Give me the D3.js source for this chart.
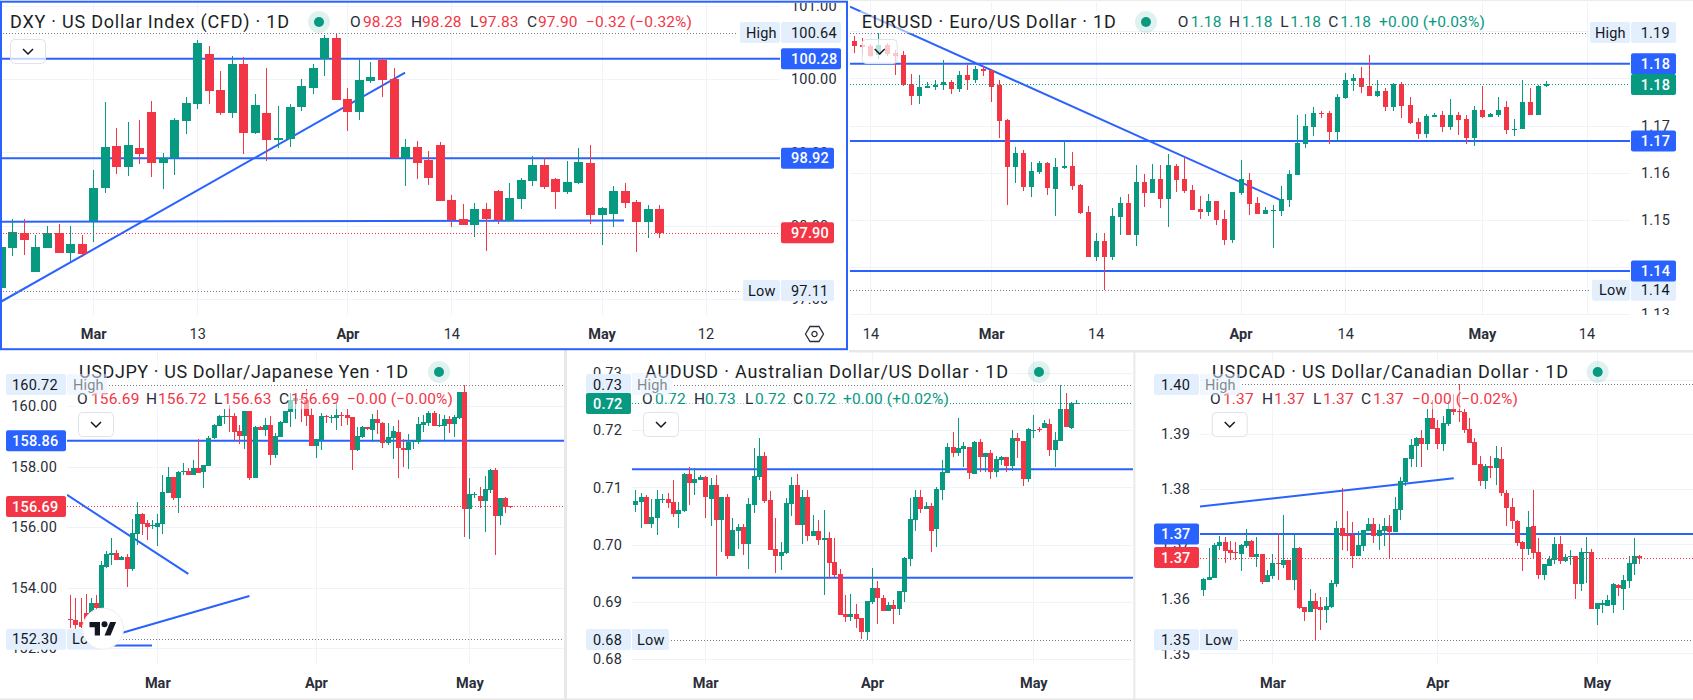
<!DOCTYPE html>
<html>
<head>
<meta charset="utf-8">
<title>FX majors daily candles</title>
<script src="https://cdn.jsdelivr.net/npm/d3@7"></script>
<style>
  html, body { margin: 0; padding: 0; background: #fff; }
  svg { display: block; }
  text { font-family: Roboto, "Noto Sans", sans-serif; }
</style>
</head>
<body>
<svg id="board" width="1693" height="700"></svg>
<script>
// Daily candles, each row is [open, high, low, close].
const dxyCandles = [
[97.14,97.75,97.10,97.71],[97.69,98.09,97.58,97.91],[97.90,98.09,97.60,97.80],[97.36,97.87,97.36,97.71],[97.69,97.99,97.69,97.90],
[97.90,98.02,97.62,97.62],[97.62,97.99,97.50,97.75],[97.75,97.87,97.57,97.61],[98.06,98.76,97.77,98.51],[98.51,99.69,98.45,99.07],
[99.09,99.33,98.70,98.80],[98.80,99.42,98.68,99.10],[99.06,99.44,98.84,98.98],[99.55,99.70,98.66,98.86],[98.86,98.99,98.50,98.92],
[98.92,99.47,98.69,99.44],[99.43,99.76,99.25,99.68],[99.66,100.54,99.59,100.50],[100.35,100.46,99.66,99.84],[99.85,100.11,99.51,99.54],
[99.54,100.32,99.47,100.21],[100.21,100.31,98.98,99.27],[99.27,99.80,99.25,99.65],[99.54,100.16,98.88,99.17],[99.17,99.64,99.06,99.20],
[99.18,99.66,99.07,99.62],[99.62,100.00,99.57,99.91],[99.88,100.21,99.80,100.16],[100.28,100.61,100.05,100.57],[100.57,100.64,99.72,99.72],
[99.73,99.88,99.29,99.55],[99.55,100.28,99.44,99.99],[99.98,100.24,99.95,100.03],[100.26,100.28,99.76,99.99],[100.00,100.16,98.92,98.92],
[98.92,99.18,98.54,99.07],[99.07,99.16,98.64,98.86],[98.90,99.02,98.55,98.65],[99.10,99.14,98.34,98.34],[98.35,98.42,97.98,98.08],
[98.09,98.29,98.01,98.01],[98.01,98.31,97.84,98.23],[98.23,98.31,97.65,98.09],[98.47,98.49,98.02,98.08],[98.06,98.58,98.06,98.38],
[98.36,98.65,98.23,98.62],[98.61,98.95,98.54,98.83],[98.83,98.92,98.50,98.53],[98.64,98.65,98.23,98.46],[98.46,98.88,98.43,98.60],
[98.58,99.06,98.57,98.87],[98.86,99.10,98.02,98.14],[98.14,98.25,97.73,98.24],[98.16,98.54,97.98,98.47],[98.47,98.58,98.24,98.31],
[98.32,98.35,97.64,98.05],[98.05,98.28,97.83,98.23],[98.23,98.28,97.83,97.90]
];
const eurCandles = [
[1.1879,1.1890,1.1854,1.1868],[1.1871,1.1885,1.1849,1.1866],[1.1868,1.1872,1.1845,1.1847],[1.1849,1.1897,1.1841,1.1871],[1.1871,1.1875,1.1847,1.1851],
[1.1854,1.1860,1.1807,1.1847],[1.1849,1.1858,1.1784,1.1786],[1.1788,1.1809,1.1744,1.1763],[1.1763,1.1807,1.1746,1.1782],[1.1780,1.1792,1.1780,1.1784],
[1.1782,1.1796,1.1775,1.1786],[1.1786,1.1839,1.1775,1.1792],[1.1792,1.1796,1.1767,1.1777],[1.1777,1.1816,1.1771,1.1807],[1.1807,1.1828,1.1775,1.1796],
[1.1796,1.1826,1.1790,1.1820],[1.1820,1.1826,1.1805,1.1816],[1.1818,1.1818,1.1750,1.1782],[1.1786,1.1796,1.1674,1.1710],[1.1712,1.1714,1.1532,1.1612],
[1.1612,1.1655,1.1578,1.1642],[1.1642,1.1648,1.1561,1.1570],[1.1570,1.1623,1.1549,1.1604],[1.1602,1.1625,1.1597,1.1621],[1.1621,1.1623,1.1553,1.1568],
[1.1566,1.1631,1.1508,1.1612],[1.1610,1.1667,1.1608,1.1614],[1.1614,1.1644,1.1563,1.1572],[1.1574,1.1576,1.1513,1.1515],[1.1517,1.1530,1.1422,1.1422],
[1.1422,1.1472,1.1413,1.1455],[1.1455,1.1472,1.1352,1.1422],[1.1422,1.1525,1.1415,1.1508],[1.1506,1.1549,1.1468,1.1536],[1.1536,1.1555,1.1468,1.1468],
[1.1468,1.1616,1.1445,1.1580],[1.1580,1.1597,1.1527,1.1557],[1.1557,1.1619,1.1557,1.1587],[1.1587,1.1616,1.1525,1.1544],[1.1544,1.1640,1.1485,1.1616],
[1.1614,1.1619,1.1559,1.1585],[1.1587,1.1631,1.1557,1.1561],[1.1563,1.1574,1.1521,1.1521],[1.1523,1.1551,1.1502,1.1517],[1.1517,1.1555,1.1508,1.1540],
[1.1540,1.1540,1.1489,1.1500],[1.1502,1.1521,1.1447,1.1458],[1.1458,1.1559,1.1451,1.1559],[1.1557,1.1627,1.1553,1.1587],[1.1585,1.1599,1.1511,1.1534],
[1.1536,1.1549,1.1513,1.1513],[1.1513,1.1527,1.1513,1.1521],[1.1519,1.1532,1.1441,1.1521],[1.1519,1.1572,1.1508,1.1544],[1.1542,1.1606,1.1527,1.1597],
[1.1595,1.1722,1.1595,1.1663],[1.1661,1.1724,1.1652,1.1699],[1.1697,1.1739,1.1678,1.1727],[1.1727,1.1731,1.1716,1.1724],[1.1727,1.1731,1.1661,1.1686],
[1.1686,1.1767,1.1665,1.1760],[1.1758,1.1811,1.1756,1.1796],[1.1794,1.1809,1.1773,1.1801],[1.1801,1.1824,1.1769,1.1782],[1.1784,1.1849,1.1763,1.1763],
[1.1763,1.1796,1.1760,1.1773],[1.1773,1.1780,1.1731,1.1739],[1.1739,1.1790,1.1731,1.1788],[1.1788,1.1792,1.1716,1.1741],[1.1744,1.1760,1.1703,1.1705],
[1.1708,1.1716,1.1672,1.1682],[1.1682,1.1724,1.1674,1.1720],[1.1718,1.1727,1.1718,1.1722],[1.1722,1.1731,1.1686,1.1697],[1.1697,1.1756,1.1691,1.1722],
[1.1722,1.1729,1.1680,1.1712],[1.1714,1.1722,1.1661,1.1674],[1.1674,1.1741,1.1657,1.1733],[1.1733,1.1784,1.1716,1.1718],[1.1718,1.1727,1.1718,1.1724],
[1.1722,1.1760,1.1718,1.1733],[1.1739,1.1752,1.1682,1.1691],[1.1691,1.1714,1.1678,1.1693],[1.1693,1.1796,1.1693,1.1750],[1.1750,1.1780,1.1722,1.1722],
[1.1722,1.1786,1.1722,1.1784],[1.1784,1.1794,1.1782,1.1788]
];
const jpyCandles = [
[152.98,153.75,152.66,152.95],[152.94,153.66,152.63,152.77],[152.86,153.65,152.66,152.72],[153.16,153.80,152.77,152.88],[153.05,153.66,152.88,153.50],
[153.50,153.76,153.16,153.32],[153.32,154.89,153.27,154.75],[154.69,155.22,154.66,155.12],[155.09,155.65,154.75,155.15],[155.15,155.25,154.92,154.92],
[154.92,155.05,154.92,155.02],[155.02,155.12,154.03,154.62],[154.62,156.28,154.56,155.81],[155.78,156.84,155.42,156.44],[156.44,156.47,155.75,156.11],
[156.14,156.24,155.58,156.01],[156.04,156.24,155.94,156.08],[156.01,156.44,155.38,156.14],[156.11,157.73,155.78,157.17],[157.13,157.99,157.13,157.66],
[157.66,157.66,156.90,156.97],[156.97,157.86,156.47,157.83],[157.83,158.13,157.73,157.86],[157.86,157.96,157.73,157.73],[157.73,158.23,157.73,157.96],
[157.96,158.92,157.80,157.80],[157.83,158.06,157.30,158.06],[158.03,159.02,158.03,158.95],[158.95,159.42,158.92,159.38],[159.35,159.71,159.35,159.68],
[159.65,159.91,159.42,159.68],[159.68,160.04,159.15,159.65],[159.68,159.78,158.89,159.15],[159.18,159.38,158.75,159.02],[159.02,159.85,158.59,159.85],
[159.85,159.85,157.56,157.63],[157.63,159.35,157.63,159.32],[159.32,159.35,159.22,159.22],[159.22,159.61,159.02,159.38],[159.38,159.68,158.06,158.39],
[158.39,159.12,158.29,159.02],[158.99,159.52,158.99,159.48],[159.45,159.85,159.45,159.85],[159.81,160.43,159.32,160.21],[160.18,160.37,159.58,160.28],
[160.24,160.37,159.48,160.20],[160.21,160.57,159.35,159.68],[159.71,159.94,158.69,158.69],[158.69,158.92,158.29,158.92],[158.89,159.78,158.56,159.68],
[159.68,159.71,159.45,159.65],[159.61,159.71,159.45,159.65],[159.61,160.14,159.22,159.71],[159.71,159.81,159.35,159.68],[159.71,159.91,159.38,159.61],
[159.65,159.65,157.90,158.56],[158.56,159.32,158.52,159.02],[158.99,159.35,158.95,159.32],[159.32,159.32,159.22,159.25],[159.22,159.75,158.82,159.58],
[159.58,159.88,159.09,159.45],[159.45,159.48,158.62,158.79],[158.79,159.45,158.72,158.99],[158.95,159.35,158.26,159.18],[159.15,159.55,157.63,158.62],
[158.62,158.92,157.99,158.56],[158.56,159.09,157.93,158.82],[158.82,158.89,158.59,158.85],[158.82,159.65,158.75,159.42],[159.38,159.71,159.15,159.48],
[159.45,159.85,159.35,159.78],[159.78,159.85,159.35,159.35],[159.35,159.75,159.32,159.37],[159.35,159.71,158.89,159.58],[159.58,159.68,159.12,159.42],
[159.42,159.71,158.99,159.65],[159.61,160.47,159.58,160.47],[160.47,160.72,155.68,156.61],[156.61,157.63,155.61,157.10],[157.07,157.17,156.97,157.10],
[157.03,157.33,156.64,156.87],[156.87,157.70,155.85,157.27],[157.23,157.93,157.13,157.90],[157.90,157.96,155.09,156.37],[156.37,156.97,156.08,156.97],
[156.97,157.00,156.47,156.67],[156.69,156.72,156.63,156.69]
];
const audCandles = [
[.7069,.7096,.7057,.7076],[.7075,.7090,.7029,.7083],[.7083,.7087,.7036,.7036],[.7036,.7080,.7029,.7048],[.7047,.7096,.7017,.7080],
[.7078,.7089,.7073,.7080],[.7080,.7090,.7064,.7073],[.7075,.7113,.7048,.7054],[.7054,.7075,.7029,.7061],[.7059,.7125,.7057,.7124],
[.7124,.7136,.7069,.7108],[.7108,.7134,.7087,.7115],[.7113,.7122,.7113,.7118],[.7118,.7120,.7047,.7083],[.7080,.7117,.7033,.7104],
[.7104,.7122,.6945,.7043],[.7043,.7083,.6987,.7083],[.7083,.7089,.6975,.6980],[.6980,.7047,.6980,.7026],[.7024,.7036,.6992,.7031],
[.7031,.7036,.6982,.7001],[.7001,.7082,.6957,.7071],[.7069,.7169,.7055,.7120],[.7118,.7187,.7113,.7155],[.7155,.7162,.7073,.7076],
[.7078,.7094,.6991,.6991],[.6992,.7047,.6950,.6980],[.6980,.7005,.6956,.6987],[.6985,.7082,.6984,.7073],[.7071,.7118,.7050,.7104],
[.7104,.7124,.7034,.7034],[.7034,.7096,.7001,.7083],[.7083,.7096,.7006,.7015],[.7015,.7052,.7015,.7024],[.7024,.7043,.6999,.7008],
[.7008,.7061,.6912,.7012],[.7012,.7022,.6940,.6968],[.6970,.7012,.6943,.6947],[.6949,.6957,.6877,.6877],[.6879,.6912,.6865,.6874],
[.6874,.6914,.6867,.6879],[.6879,.6896,.6854,.6870],[.6872,.6872,.6835,.6847],[.6847,.6902,.6833,.6902],[.6900,.6959,.6896,.6924],
[.6924,.6936,.6861,.6907],[.6907,.6912,.6884,.6884],[.6884,.6900,.6884,.6895],[.6895,.6903,.6861,.6888],[.6888,.6919,.6877,.6919],
[.6917,.6978,.6900,.6977],[.6975,.7082,.6963,.7045],[.7043,.7096,.7024,.7083],[.7083,.7096,.7055,.7062],[.7062,.7075,.7062,.7068],
[.7068,.7073,.6987,.7024],[.7027,.7101,.6996,.7097],[.7096,.7148,.7078,.7127],[.7125,.7178,.7125,.7171],[.7171,.7197,.7153,.7160],
[.7160,.7222,.7155,.7169],[.7167,.7180,.7136,.7173],[.7171,.7171,.7115,.7125],[.7124,.7181,.7124,.7180],[.7180,.7185,.7127,.7153],
[.7153,.7160,.7127,.7160],[.7160,.7166,.7115,.7127],[.7127,.7155,.7118,.7150],[.7148,.7155,.7139,.7153],[.7153,.7153,.7127,.7138],
[.7138,.7201,.7129,.7187],[.7187,.7195,.7152,.7181],[.7181,.7181,.7103,.7115],[.7115,.7204,.7110,.7202],[.7199,.7227,.7187,.7201],
[.7202,.7206,.7197,.7201],[.7204,.7218,.7204,.7213],[.7211,.7220,.7155,.7166],[.7166,.7197,.7136,.7183],[.7181,.7280,.7181,.7237],
[.7237,.7265,.7206,.7206],[.7204,.7250,.7202,.7248],[.7246,.7253,.7246,.7248]
];
const cadCandles = [
[1.3616,1.3638,1.3605,1.3636],[1.3634,1.3692,1.3634,1.3639],[1.3638,1.3701,1.3638,1.3698],[1.3696,1.3714,1.3689,1.3703],[1.3703,1.3712,1.3665,1.3687],
[1.3689,1.3705,1.3670,1.3683],[1.3685,1.3703,1.3670,1.3684],[1.3681,1.3700,1.3650,1.3698],[1.3696,1.3727,1.3692,1.3705],[1.3705,1.3707,1.3676,1.3676],
[1.3676,1.3712,1.3658,1.3681],[1.3681,1.3681,1.3627,1.3630],[1.3630,1.3652,1.3630,1.3643],[1.3641,1.3681,1.3636,1.3665],[1.3665,1.3720,1.3634,1.3664],
[1.3661,1.3753,1.3656,1.3670],[1.3670,1.3670,1.3634,1.3634],[1.3634,1.3716,1.3616,1.3692],[1.3692,1.3694,1.3581,1.3583],[1.3585,1.3585,1.3559,1.3576],
[1.3576,1.3617,1.3576,1.3596],[1.3596,1.3610,1.3524,1.3581],[1.3585,1.3603,1.3543,1.3579],[1.3579,1.3603,1.3555,1.3586],[1.3585,1.3634,1.3583,1.3628],
[1.3627,1.3742,1.3621,1.3729],[1.3729,1.3802,1.3689,1.3714],[1.3718,1.3760,1.3687,1.3714],[1.3716,1.3740,1.3656,1.3678],[1.3678,1.3723,1.3678,1.3698],
[1.3696,1.3725,1.3687,1.3725],[1.3723,1.3747,1.3723,1.3736],[1.3736,1.3747,1.3701,1.3714],[1.3714,1.3736,1.3689,1.3725],[1.3723,1.3747,1.3696,1.3733],
[1.3733,1.3753,1.3672,1.3722],[1.3722,1.3786,1.3722,1.3764],[1.3762,1.3822,1.3743,1.3815],[1.3813,1.3857,1.3806,1.3857],[1.3855,1.3891,1.3840,1.3881],
[1.3879,1.3895,1.3840,1.3893],[1.3893,1.3908,1.3840,1.3882],[1.3882,1.3946,1.3871,1.3930],[1.3930,1.3963,1.3910,1.3910],[1.3912,1.3926,1.3873,1.3882],
[1.3882,1.3933,1.3870,1.3921],[1.3919,1.3961,1.3915,1.3946],[1.3946,1.3974,1.3935,1.3941],[1.3943,1.3991,1.3923,1.3941],[1.3941,1.3946,1.3902,1.3908],
[1.3910,1.3930,1.3884,1.3884],[1.3886,1.3893,1.3844,1.3844],[1.3846,1.3860,1.3806,1.3815],[1.3815,1.3846,1.3800,1.3842],[1.3842,1.3860,1.3820,1.3838],
[1.3838,1.3879,1.3807,1.3857],[1.3855,1.3877,1.3787,1.3793],[1.3793,1.3798,1.3733,1.3765],[1.3767,1.3784,1.3727,1.3742],[1.3742,1.3743,1.3696,1.3701],
[1.3703,1.3705,1.3650,1.3691],[1.3691,1.3760,1.3680,1.3731],[1.3733,1.3798,1.3674,1.3683],[1.3685,1.3711,1.3636,1.3643],[1.3643,1.3663,1.3634,1.3663],
[1.3659,1.3678,1.3659,1.3672],[1.3670,1.3712,1.3663,1.3700],[1.3700,1.3714,1.3663,1.3669],[1.3669,1.3681,1.3667,1.3676],[1.3676,1.3689,1.3661,1.3678],
[1.3678,1.3678,1.3599,1.3627],[1.3627,1.3692,1.3614,1.3685],[1.3683,1.3712,1.3628,1.3685],[1.3685,1.3691,1.3581,1.3581],[1.3581,1.3592,1.3552,1.3592],
[1.3588,1.3597,1.3574,1.3592],[1.3586,1.3606,1.3586,1.3597],[1.3588,1.3628,1.3574,1.3627],[1.3625,1.3627,1.3605,1.3619],[1.3617,1.3643,1.3579,1.3634],
[1.3632,1.3678,1.3619,1.3665],[1.3663,1.3711,1.3643,1.3678],[1.3678,1.3680,1.3663,1.3675]
];

// Session extremes, last close and horizontal levels per instrument.
const dxyStats = { high: 100.64, low: 97.11, last: 97.90 };
const eurStats = { high: 1.1897, low: 1.1351, last: 1.1787 };
const jpyStats = { high: 160.72, low: 152.30, last: 156.69 };
const audStats = { high: .7280, low: .6834, last: .7247 };
const cadStats = { high: 1.3991, low: 1.3525, last: 1.3675 };
const dxyLevels = [100.28, 98.92];
const eurLevels = [1.1831, 1.1667, 1.1392];
const jpyLevels = [158.86];
const audLevels = [.7132, .6942];
const cadLevels = [1.3718];

// Hand-drawn trend segments as [[bar, price], [bar, price]].
const dxySegments = [[[-0.07, 96.95], [35, 100.09]], [[-0.07, 98.052], [53.95, 98.068]]];
const eurSegments = [[[-0.54, 1.1952], [53.1, 1.1541]]];
const jpySegments = [[[-0.65, 157.07], [23.06, 154.46]], [[5.8, 152.30], [35, 153.73]], [[5.8, 152.09], [15.96, 152.09]]];
const audSegments = [];
const cadSegments = [[[-0.63, 1.3768], [47.1, 1.3820]]];

// Price axis ticks.
const dxyPriceTicks = [97, 98, 99, 100, 101];
const eurPriceTicks = [1.13, 1.14, 1.15, 1.16, 1.17, 1.18, 1.19];
const jpyPriceTicks = [152, 154, 156, 158, 160];
const audPriceTicks = [.68, .69, .70, .71, .72, .73];
const cadPriceTicks = [1.35, 1.36, 1.37, 1.38, 1.39, 1.40];

// Time axis ticks: bar index and its label.
const dxyTimeBars = [8, 17, 30, 39, 52, 61];
const dxyTimeLabels = ["Mar", "13", "Apr", "14", "May", "12"];
const eurTimeBars = [2, 17, 30, 48, 61, 78, 91];
const eurTimeLabels = ["14", "Mar", "14", "Apr", "14", "May", "14"];
const jpyTimeBars = [17, 48, 78];
const jpyTimeLabels = ["Mar", "Apr", "May"];
const audTimeBars = [13, 44, 74];
const audTimeLabels = ["Mar", "Apr", "May"];
const cadTimeBars = [13, 44, 74];
const cadTimeLabels = ["Mar", "Apr", "May"];

// Header legends.
const dxyLegend = ["98.23", "98.28", "97.83", "97.90", "\u22120.32 (\u22120.32%)"];
const eurLegend = ["1.18", "1.18", "1.18", "1.18", "+0.00 (+0.03%)"];
const jpyLegend = ["156.69", "156.72", "156.63", "156.69", "\u22120.00 (\u22120.00%)"];
const audLegend = ["0.72", "0.73", "0.72", "0.72", "+0.00 (+0.02%)"];
const cadLegend = ["1.37", "1.37", "1.37", "1.37", "\u22120.00 (\u22120.02%)"];

const GREEN = "#089981", RED = "#F23645", BLUE = "#2962FF";
const GRID = "#f0f3fa", TAG = "#e3effd", DOT = "#787b86";
const fmt2 = d3.format(".2f");
const svg = d3.select("#board");

// Screen layout of the five charts.
const panels = [
  { id: "dxy", title: "DXY \u00b7 US Dollar Index (CFD) \u00b7 1D", titleX: 10, titleW: 279, rowY: 0, top: 3, timeY: 315, bottom: 334,
    left: 0, right: 780, side: "right", xRange: [0.78, 659.3], yDomain: [97, 101], yRange: [298.6, 6.2], barW: 9,
    candles: dxyCandles, stats: dxyStats, levels: dxyLevels, segments: dxySegments, priceTicks: dxyPriceTicks,
    timeBars: dxyTimeBars, timeLabels: dxyTimeLabels, legend: dxyLegend,
    legendX: [350, 363, 411, 422, 470, 479, 527, 538, 586], dotX: 319, buttonX: 10,
    tagX: 781, tagW: 53, tagTextX: 791, highTag: [740, 40, 746, 60], lowTag: [743, 37, 748, 53], levelTagW: [60, 53], levelTags: true, legendFade: false },
  { id: "eur", title: "EURUSD \u00b7 Euro/US Dollar \u00b7 1D", titleX: 861.7, titleW: 254, rowY: 0, top: 2, timeY: 315, bottom: 334,
    left: 850, right: 1630, side: "right", xRange: [854.33, 1546.3], yDomain: [1.13, 1.19], yRange: [314.3, 31.1], barW: 5,
    candles: eurCandles, stats: eurStats, levels: eurLevels, segments: eurSegments, priceTicks: eurPriceTicks,
    timeBars: eurTimeBars, timeLabels: eurTimeLabels, legend: eurLegend,
    legendX: [1177.7, 1190.7, 1229, 1241.7, 1280.3, 1290.3, 1328.3, 1340.3, 1379], dotX: 1146, buttonX: 861.7,
    tagX: 1631, tagW: 45, tagTextX: 1640.7, highTag: [1590, 40, 1595, 45], lowTag: [1592, 38, 1599, 45], levelTagW: [45, 45, 45], levelTags: true, legendFade: false },
  { id: "jpy", title: "USDJPY \u00b7 US Dollar/Japanese Yen \u00b7 1D", titleX: 79, titleW: 329, rowY: 350, top: 352, timeY: 665, bottom: 683,
    left: 67, right: 564, side: "left", xRange: [70.33, 510.3], yDomain: [152, 160], yRange: [648.3, 406.3], barW: 5,
    candles: jpyCandles, stats: jpyStats, levels: jpyLevels, segments: jpySegments, priceTicks: jpyPriceTicks,
    timeBars: jpyTimeBars, timeLabels: jpyTimeLabels, legend: jpyLegend,
    legendX: [77, 91, 146, 158, 214, 223, 279, 291, 347], dotX: 439, buttonX: 78,
    tagX: 6, tagW: 60, tagTextX: 12, highTag: [67, 40, 73, 60], lowTag: [67, 36, 72, 60], levelTagW: [60], levelTags: true, legendFade: true },
  { id: "aud", title: "AUDUSD \u00b7 Australian Dollar/US Dollar \u00b7 1D", titleX: 645, titleW: 363, rowY: 350, top: 352, timeY: 665, bottom: 683,
    left: 632, right: 1133, side: "left", xRange: [635.33, 1076.3], yDomain: [.68, .72], yRange: [659, 430.33], barW: 5,
    candles: audCandles, stats: audStats, levels: audLevels, segments: audSegments, priceTicks: audPriceTicks,
    timeBars: audTimeBars, timeLabels: audTimeLabels, legend: audLegend,
    legendX: [642, 655, 694, 705, 745, 755, 793, 805, 843], dotX: 1039, buttonX: 643,
    tagX: 586, tagW: 45, tagTextX: 593, highTag: [632, 40, 637, 45], lowTag: [632, 37, 637, 45], levelTagW: [], levelTags: false, legendFade: true },
  { id: "cad", title: "USDCAD \u00b7 US Dollar/Canadian Dollar \u00b7 1D", titleX: 1212, titleW: 356, rowY: 350, top: 352, timeY: 665, bottom: 683,
    left: 1200, right: 1693, side: "left", xRange: [1203.33, 1639.3], yDomain: [1.35, 1.39], yRange: [653.4, 434.33], barW: 5,
    candles: cadCandles, stats: cadStats, levels: cadLevels, segments: cadSegments, priceTicks: cadPriceTicks,
    timeBars: cadTimeBars, timeLabels: cadTimeLabels, legend: cadLegend,
    legendX: [1210, 1223, 1262, 1274, 1313, 1323, 1361, 1373, 1412], dotX: 1597.7, buttonX: 1211.7,
    tagX: 1154, tagW: 45, tagTextX: 1161, highTag: [1200, 40, 1205, 45], lowTag: [1200, 38, 1205, 45], levelTagW: [45], levelTags: true, legendFade: true }
];

// Frame pieces between charts.
const chrome = svg.append("g");
chrome.append("rect").attr("x", 849).attr("y", 0).attr("width", 844).attr("height", 1).attr("fill", "#ececec");
chrome.append("rect").attr("x", 0).attr("y", 698.5).attr("width", 1693).attr("height", 1.5).attr("fill", "#e8e8e8");
chrome.append("rect").attr("x", 849).attr("y", 350).attr("width", 844).attr("height", 2.5).attr("fill", "#e8e8e8");
chrome.append("rect").attr("x", 564).attr("y", 350).attr("width", 3).attr("height", 350).attr("fill", "#e8e8e8");
chrome.append("rect").attr("x", 1133.5).attr("y", 350).attr("width", 1.8).attr("height", 350).attr("fill", "#e8e8e8");

function drawTag(g, x, w, yc, label, bg, fg, tx, weight, opacity) {
  g.append("rect").attr("x", x).attr("y", yc - 10.5).attr("width", w).attr("height", 21)
    .attr("rx", 2).attr("fill", bg).attr("opacity", opacity || 1);
  g.append("text").attr("x", tx).attr("y", yc).attr("dy", "0.35em")
    .attr("font-size", 14.5).attr("letter-spacing", .2).attr("font-weight", weight || 400)
    .attr("fill", fg).attr("opacity", opacity ? 0.5 : 1).text(label);
}

panels.forEach(p => {
  const g = svg.append("g").attr("class", "chart-" + p.id);
  const x = d3.scaleLinear().domain([0, p.candles.length - 1]).range(p.xRange);
  const y = d3.scaleLinear().domain(p.yDomain).range(p.yRange);

  const clipId = "clip-" + p.id;
  g.append("clipPath").attr("id", clipId).append("rect")
    .attr("x", p.left).attr("y", p.top).attr("width", p.right - p.left).attr("height", p.timeY - p.top);

  const plot = g.append("g").attr("clip-path", `url(#${clipId})`);

  // Grid
  plot.append("g").selectAll("line").data(p.priceTicks).join("line")
    .attr("x1", p.left).attr("x2", p.right)
    .attr("y1", d => Math.round(y(d)) + .5).attr("y2", d => Math.round(y(d)) + .5)
    .attr("stroke", GRID);
  plot.append("g").selectAll("line").data(p.timeBars).join("line")
    .attr("x1", d => Math.round(x(d)) + .5).attr("x2", d => Math.round(x(d)) + .5)
    .attr("y1", p.top).attr("y2", p.timeY)
    .attr("stroke", GRID);

  // Drawn levels and trend segments
  plot.append("g").selectAll("line").data(p.levels).join("line")
    .attr("x1", p.left).attr("x2", p.right)
    .attr("y1", d => y(d)).attr("y2", d => y(d))
    .attr("stroke", BLUE).attr("stroke-width", 2);
  plot.append("g").selectAll("line").data(p.segments).join("line")
    .attr("x1", d => x(d[0][0])).attr("y1", d => y(d[0][1]))
    .attr("x2", d => x(d[1][0])).attr("y2", d => y(d[1][1]))
    .attr("stroke", BLUE).attr("stroke-width", 2);

  // Candles
  const isUp = d => d[3] > d[0];
  const candle = plot.append("g").attr("shape-rendering", "crispEdges")
    .selectAll("g").data(p.candles).join("g")
    .attr("fill", d => isUp(d) ? GREEN : RED);
  candle.append("rect")
    .attr("x", (d, i) => Math.round(x(i)))
    .attr("width", 1)
    .attr("y", d => Math.round(y(d[1])))
    .attr("height", d => Math.max(1, Math.round(y(d[2])) - Math.round(y(d[1]))));
  candle.append("rect")
    .attr("x", (d, i) => Math.round(x(i)) - Math.floor(p.barW / 2))
    .attr("width", p.barW)
    .attr("y", d => Math.round(y(Math.max(d[0], d[3]))))
    .attr("height", d => Math.max(1, Math.round(y(Math.min(d[0], d[3]))) - Math.round(y(Math.max(d[0], d[3])))));

  // Dotted reference lines
  const lastColor = isUp(p.candles[p.candles.length - 1]) ? GREEN : RED;
  const dotted = (value, color, x1, x2) => plot.append("line")
    .attr("x1", x1).attr("x2", x2).attr("y1", Math.round(y(value)) + .5).attr("y2", Math.round(y(value)) + .5)
    .attr("stroke", color).attr("stroke-dasharray", "1 2");
  if (p.side === "right") {
    dotted(p.stats.high, DOT, p.left, p.highTag[0] - 2);
    dotted(p.stats.low, DOT, p.left, p.lowTag[0] - 2);
  } else {
    dotted(p.stats.high, DOT, p.highTag[0] + p.highTag[1] + 2, p.right);
    dotted(p.stats.low, DOT, p.lowTag[0] + p.lowTag[1] + 2, p.right);
  }
  dotted(p.stats.last, lastColor, p.left, p.right);

  // Price axis
  const axisX = p.side === "right" ? p.right : p.left;
  const axis = (p.side === "right" ? d3.axisRight(y) : d3.axisLeft(y))
    .tickValues(p.priceTicks).tickFormat(fmt2).tickSize(0)
    .tickPadding(p.side === "right" ? 11 : 10);
  const priceClip = "price-" + p.id;
  g.append("clipPath").attr("id", priceClip).append("rect")
    .attr("x", p.side === "right" ? p.right : p.tagX).attr("y", p.top)
    .attr("width", p.side === "right" ? 90 : p.left - p.tagX).attr("height", p.timeY - p.top);
  const pa = g.append("g").attr("clip-path", `url(#${priceClip})`).append("g")
    .attr("transform", `translate(${axisX},0)`).call(axis);
  pa.select(".domain").remove();
  pa.attr("font-family", null);
  pa.selectAll("text").attr("font-size", 14.5).attr("letter-spacing", .2).attr("fill", "#2a2e39");

  // Time axis
  const ta = g.append("g").attr("transform", `translate(0,${p.bottom})`)
    .call(d3.axisBottom(x).tickValues(p.timeBars).tickFormat((d, i) => p.timeLabels[i]).tickSize(0).tickPadding(0));
  ta.select(".domain").remove();
  ta.attr("font-family", null);
  ta.selectAll("text").attr("font-size", 14.5).attr("dy", "0.35em").attr("fill", "#2a2e39")
    .attr("font-weight", (d, i) => /[A-Za-z]/.test(p.timeLabels[i]) ? 700 : 400);

  // Header: title, status dot, legend
  const row = p.rowY;
  g.append("rect").attr("x", p.titleX - 2).attr("y", row + 11).attr("width", p.titleW + 4).attr("height", 22)
    .attr("fill", "#fff").attr("opacity", .55);
  g.append("text").attr("x", p.titleX).attr("y", row + 28).attr("font-size", 18)
    .attr("textLength", p.titleW).attr("lengthAdjust", "spacing").attr("fill", "#1c1f26").text(p.title);
  g.append("circle").attr("cx", p.dotX).attr("cy", row + 22).attr("r", 11).attr("fill", GREEN).attr("opacity", .13);
  g.append("circle").attr("cx", p.dotX).attr("cy", row + 22).attr("r", 5).attr("fill", GREEN);

  if (p.legendFade) {
    g.append("rect").attr("x", p.legendX[0] - 2).attr("y", row + 40).attr("height", 19)
      .attr("width", p.legendX[8] + 108 - p.legendX[0]).attr("fill", "#fff").attr("opacity", .55);
  }
  const legendY = row + 27 + (row ? 27 : 0);
  ["O", "H", "L", "C"].forEach((k, i) => {
    g.append("text").attr("x", p.legendX[i * 2]).attr("y", legendY)
      .attr("font-size", 15.5).attr("letter-spacing", .15).attr("fill", "#2a2e39").text(k);
    g.append("text").attr("x", p.legendX[i * 2 + 1]).attr("y", legendY)
      .attr("font-size", 15.5).attr("letter-spacing", .15).attr("fill", lastColor).text(p.legend[i]);
  });
  g.append("text").attr("x", p.legendX[8]).attr("y", legendY)
    .attr("font-size", 15.5).attr("letter-spacing", .15).attr("fill", lastColor).text(p.legend[4]);

  // Collapse button
  const by = row ? row + 62 : 39;
  g.append("rect").attr("x", p.buttonX + .5).attr("y", by + .5).attr("width", 35).attr("height", 24).attr("rx", 4)
    .attr("fill", "#fff").attr("fill-opacity", .72).attr("stroke", "#e0e3eb");
  g.append("path").attr("d", `M${p.buttonX + 13},${by + 10} l5,5 l5,-5`).attr("fill", "none")
    .attr("stroke", "#131722").attr("stroke-width", 1.5);

  // Price tags
  const fade = p.side === "left" ? .5 : 0;
  drawTag(g, p.tagX, p.highTag[3], y(p.stats.high), fmt2(p.stats.high), TAG, "#131722", p.tagTextX);
  drawTag(g, p.highTag[0], p.highTag[1], y(p.stats.high), "High", TAG, "#131722", p.highTag[2], 400, fade);
  drawTag(g, p.tagX, p.lowTag[3], y(p.stats.low), fmt2(p.stats.low), TAG, "#131722", p.tagTextX);
  drawTag(g, p.lowTag[0], p.lowTag[1], y(p.stats.low), "Low", TAG, "#131722", p.lowTag[2]);
  if (p.levelTags) {
    p.levels.forEach((lv, i) => {
      drawTag(g, p.tagX, p.levelTagW[i] || p.tagW, y(lv), fmt2(lv), BLUE, "#fff", p.tagTextX, 500);
    });
  }
  drawTag(g, p.tagX, p.tagW, y(p.stats.last), fmt2(p.stats.last), lastColor, "#fff", p.tagTextX, 500);
});

// Hexagon settings icon at the corner of the first chart
const gear = svg.append("g").attr("transform", "translate(814.5,334)");
gear.append("path").attr("d", "M-9,0 L-4.5,-7.5 L4.5,-7.5 L9,0 L4.5,7.5 L-4.5,7.5 Z").attr("fill", "none").attr("stroke", "#2a2e39").attr("stroke-width", 1.3);
gear.append("circle").attr("r", 2.6).attr("fill", "none").attr("stroke", "#2a2e39").attr("stroke-width", 1.3);

// Outline of the focused chart
svg.append("rect").attr("x", 1).attr("y", 1.7).attr("width", 846).attr("height", 347.5)
  .attr("fill", "none").attr("stroke", BLUE).attr("stroke-width", 2);

// Brand badge
const badge = svg.append("g").attr("transform", "translate(103,628.7)");
badge.append("circle").attr("r", 20.5).attr("fill", "#fff").attr("stroke", "#eceef2").attr("stroke-width", 1);
badge.append("g").attr("transform", "translate(-13.5,-9.75) scale(.75)")
  .call(s => {
    s.append("path").attr("d", "M14 22H7V11H0V4h14v18zM28 22h-8l7.5-18h8L28 22z").attr("fill", "#131722");
    s.append("circle").attr("cx", 20).attr("cy", 7).attr("r", 4).attr("fill", "#131722");
  });
</script>
</body>
</html>
